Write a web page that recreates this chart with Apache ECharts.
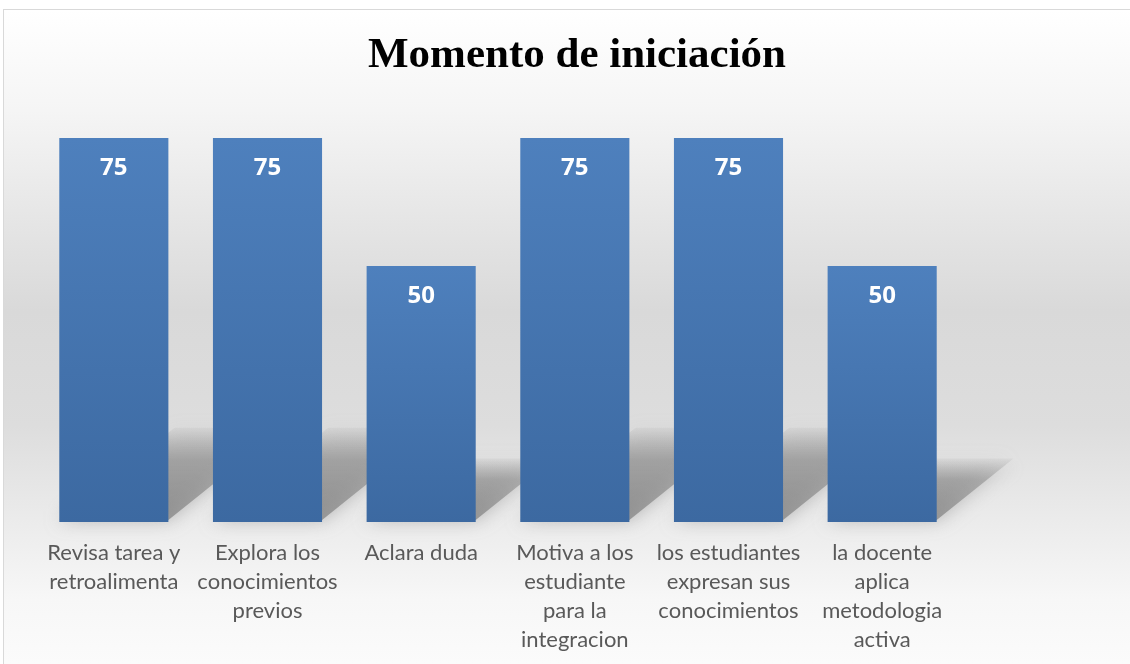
<!DOCTYPE html>
<html>
<head>
<meta charset="utf-8">
<script src="https://cdn.jsdelivr.net/npm/echarts@6/dist/echarts.min.js"></script>
<style>
  html, body { margin: 0; padding: 0; width: 1130px; height: 664px; overflow: hidden; background: #fff; }
  .frame {
    position: absolute; left: 3px; top: 9px; width: 1140px; height: 670px;
    border-top: 1px solid #d9d9d9; border-left: 1px solid #d9d9d9;
    background: linear-gradient(to bottom, #ffffff 0%, #f5f5f5 15%, #e5e5e5 32%, #d9d9d9 45%, #dddddd 62%, #ebebeb 76%, #f7f7f7 88%, #fcfcfc 100%);
  }
  #chart { position: absolute; left: 0; top: 0; width: 1130px; height: 664px; }
</style>
</head>
<body>
<div class="frame"></div>
<div id="chart"></div>
<script>
// datos del grafico
const categorias = [
  "Revisa tarea y\nretroalimenta",
  "Explora los\nconocimientos\nprevios",
  "Aclara duda",
  "Motiva a los\nestudiante\npara la\nintegracion",
  "los estudiantes\nexpresan sus\nconocimientos",
  "la docente\naplica\nmetodologia\nactiva"
]
const valores = [75, 75, 50, 75, 75, 50]

const chart = echarts.init(document.getElementById("chart"))

const options = {
  backgroundColor: "transparent",
  title: {
    text: "Momento de iniciación",
    left: 572,
    top: 29,
    textAlign: "center",
    textStyle: {
      fontFamily: "Liberation Serif",
      fontWeight: "bold",
      fontSize: 43,
      color: "#000"
    }
  },
  grid: {
    left: 37,
    right: 171,
    top: 138,
    bottom: 142
  },
  xAxis: {
    type: "category",
    data: categorias,
    axisLine: { show: false },
    axisTick: { show: false },
    axisLabel: {
      interval: 0,
      margin: 16,
      fontFamily: "Lato",
      fontSize: 22,
      lineHeight: 29,
      color: "#595959"
    }
  },
  yAxis: {
    type: "value",
    min: 0,
    max: 75,
    show: false
  },
  series: [
    {
      // sombra en perspectiva
      type: "custom",
      z: 1,
      silent: true,
      data: valores.map((v, i) => [i, v]),
      renderItem: function (params, api) {
        const base = api.coord([api.value(0), 0])
        const top = api.coord([api.value(0), api.value(1)])
        const w = api.size([1, 0])[0] * 0.71
        const h = (base[1] - top[1]) * 0.24
        const dx = h * 1.25
        const x0 = base[0] - w / 2
        const x1 = base[0] + w / 2
        const y = base[1] - 2
        return {
          type: "polygon",
          shape: {
            points: [[x0, y], [x1, y], [x1 + dx, y - h], [x0 + dx, y - h]]
          },
          style: {
            fill: new echarts.graphic.LinearGradient(0, 0, 0, 1, [
              { offset: 0, color: "rgba(130,130,130,0.08)" },
              { offset: 0.35, color: "rgba(130,130,130,0.5)" },
              { offset: 1, color: "rgba(130,130,130,0.75)" }
            ]),
            shadowBlur: 18,
            shadowColor: "rgba(130,130,130,0.7)"
          }
        }
      }
    },
    {
      type: "bar",
      z: 2,
      barWidth: "71%",
      data: valores,
      itemStyle: {
        color: new echarts.graphic.LinearGradient(0, 0, 0, 1, [
          { offset: 0, color: "#4e80bd" },
          { offset: 1, color: "#3c69a1" }
        ])
      },
      label: {
        show: true,
        position: "insideTop",
        distance: 18,
        color: "#fff",
        fontFamily: "Open Sans",
        fontWeight: "bold",
        fontSize: 24
      }
    }
  ]
}

chart.setOption(options)
</script>
</body>
</html>
